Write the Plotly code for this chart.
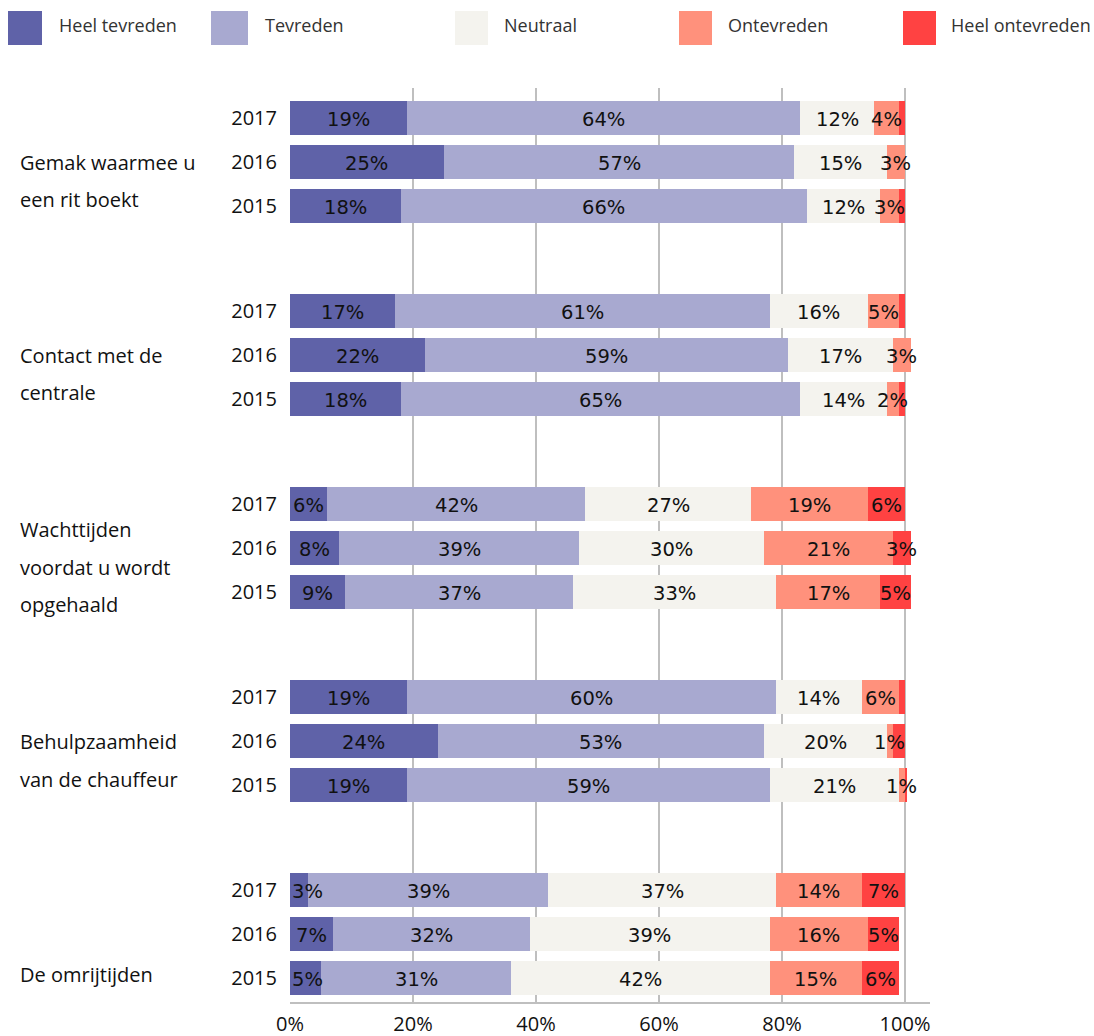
import plotly.graph_objects as go

# ---- data -------------------------------------------------------------
years = ["2017", "2016", "2015"]
aspects = [
    ["Gemak waarmee u", "een rit boekt"],
    ["Contact met de", "centrale"],
    ["Wachttijden", "voordat u wordt", "opgehaald"],
    ["Behulpzaamheid", "van de chauffeur"],
    ["De omrijtijden"],
]
categories = ["Heel tevreden", "Tevreden", "Neutraal", "Ontevreden", "Heel ontevreden"]

# percentages per aspect, years 2017 / 2016 / 2015
heel_tevreden   = [19, 25, 18, 17, 22, 18, 6, 8, 9, 19, 24, 19, 3, 7, 5]
tevreden        = [64, 57, 66, 61, 59, 65, 42, 39, 37, 60, 53, 59, 39, 32, 31]
neutraal        = [12, 15, 12, 16, 17, 14, 27, 30, 33, 14, 20, 21, 37, 39, 42]
ontevreden      = [4, 3, 3, 5, 3, 2, 19, 21, 17, 6, 1, 1, 14, 16, 15]
heel_ontevreden = [1, 0, 1, 1, 0, 1, 6, 3, 5, 1, 2, 0.4, 7, 5, 6]
# very small "heel ontevreden" slices carry no label
heel_ontevreden_labelled = [False, False, False, False, False, False,
                            True, True, True, False, False, False,
                            True, True, True]

x_ticks = [0, 20, 40, 60, 80, 100]
x_tick_labels = ["0%", "20%", "40%", "60%", "80%", "100%"]

# ---- styling ----------------------------------------------------------
colors = ["#5F62A8", "#A8A9D0", "#F4F3EE", "#FF917C", "#FF4242"]
label_font = dict(family="DejaVu Sans", size=19.5, color="#111111")
text_font = "Open Sans"

W, H = 1094, 1036
PL, PR, PT, PB = 290, 930, 88, 1002   # plot area in pixels
X_MAX = 100 * (PR - PL) / (905 - PL)  # axis runs a little past 100%
PX_PER_UNIT = (PR - PL) / X_MAX
ROW = 44.0                            # pixels between bars
GROUP_STEP = 193.0 / ROW              # rows between aspect groups
FIRST_ROW_PX = 118.0

def row_pos(g, k):
    return g * GROUP_STEP + k

def px_x(px):
    return (px - PL) / (PR - PL)

def px_y(py):
    return (PB - py) / (PB - PT)

y_top = (PT - FIRST_ROW_PX) / ROW
y_bottom = (PB - FIRST_ROW_PX) / ROW

ypos = [row_pos(g, k) for g in range(len(aspects)) for k in range(len(years))]
year_text = [years[k] for g in range(len(aspects)) for k in range(len(years))]

series = [heel_tevreden, tevreden, neutraal, ontevreden, heel_ontevreden]

fig = go.Figure()
for i, (name, vals) in enumerate(zip(categories, series)):
    fig.add_trace(go.Bar(
        name=name,
        orientation="h",
        x=vals,
        y=ypos,
        width=34 / ROW,
        marker=dict(color=colors[i], line=dict(width=0)),
        hoverinfo="skip",
        showlegend=False,
    ))

annotations = []

# value labels, drawn above every segment so neighbours never cover them;
# a label that would stick out left of the axis start is pinned to 0
base = [0.0] * len(ypos)
for i, (name, vals) in enumerate(zip(categories, series)):
    for r, v in enumerate(vals):
        show = v > 0
        if name == "Heel ontevreden":
            show = heel_ontevreden_labelled[r]
        if show:
            txt = f"{v:g}%"
            center = base[r] + v / 2
            half_w = ((len(txt) - 1) * 12.4 + 18.5) / 2 / PX_PER_UNIT
            if center - half_w < 0:
                x, anchor = 0, "left"
            else:
                x, anchor = center, "center"
            annotations.append(dict(
                xref="x", yref="y", x=x, y=ypos[r],
                xanchor=anchor, yanchor="middle", yshift=-1,
                text=txt, showarrow=False, font=label_font,
            ))
        base[r] += v

# aspect names to the left of the year labels
label_top = [1.0, 1.0, 0.59, 1.02, 1.93]
line_step = 0.845
for g, lines in enumerate(aspects):
    for j, line in enumerate(lines):
        annotations.append(dict(
            xref="paper", yref="y",
            x=px_x(18), y=row_pos(g, 0) + label_top[g] + j * line_step,
            xanchor="left", yanchor="middle",
            text=line, showarrow=False,
            font=dict(family=text_font, size=20, color="#111111"),
        ))

# legend drawn as boxes + labels across the top
legend_boxes = [(8, 42), (211, 248), (455, 488), (679, 712), (903, 936)]
legend_text_x = [57, 263, 502, 726, 949]
shapes = []
for i, name in enumerate(categories):
    x0, x1 = legend_boxes[i]
    shapes.append(dict(
        type="rect", xref="paper", yref="paper",
        x0=px_x(x0), x1=px_x(x1), y0=px_y(45), y1=px_y(11),
        fillcolor=colors[i], line=dict(width=0), layer="above",
    ))
    annotations.append(dict(
        xref="paper", yref="paper",
        x=px_x(legend_text_x[i]), y=px_y(25),
        xanchor="left", yanchor="middle",
        text=name, showarrow=False,
        font=dict(family=text_font, size=18, color="#333333"),
    ))

fig.update_layout(
    barmode="stack",
    width=W, height=H,
    margin=dict(l=PL, r=W - PR, t=PT, b=H - PB, autoexpand=False),
    paper_bgcolor="white",
    plot_bgcolor="white",
    bargap=0,
    showlegend=False,
    annotations=annotations,
    shapes=shapes,
)

fig.update_xaxes(
    range=[0, X_MAX],
    tickvals=x_ticks,
    ticktext=x_tick_labels,
    showgrid=True,
    gridcolor="#BFBFBF",
    gridwidth=2,
    zeroline=False,
    showline=True,
    linecolor="#BFBFBF",
    linewidth=2,
    ticks="",
    ticklabelstandoff=3,
    tickfont=dict(family=text_font, size=20, color="#111111"),
    fixedrange=True,
)

fig.update_yaxes(
    range=[y_bottom, y_top],
    tickvals=ypos,
    ticktext=year_text,
    showgrid=False,
    zeroline=False,
    showline=False,
    ticks="",
    ticklabelstandoff=12,
    tickfont=dict(family=text_font, size=20, color="#111111"),
    fixedrange=True,
)

fig.write_html("out.html", config=dict(displayModeBar=False))
